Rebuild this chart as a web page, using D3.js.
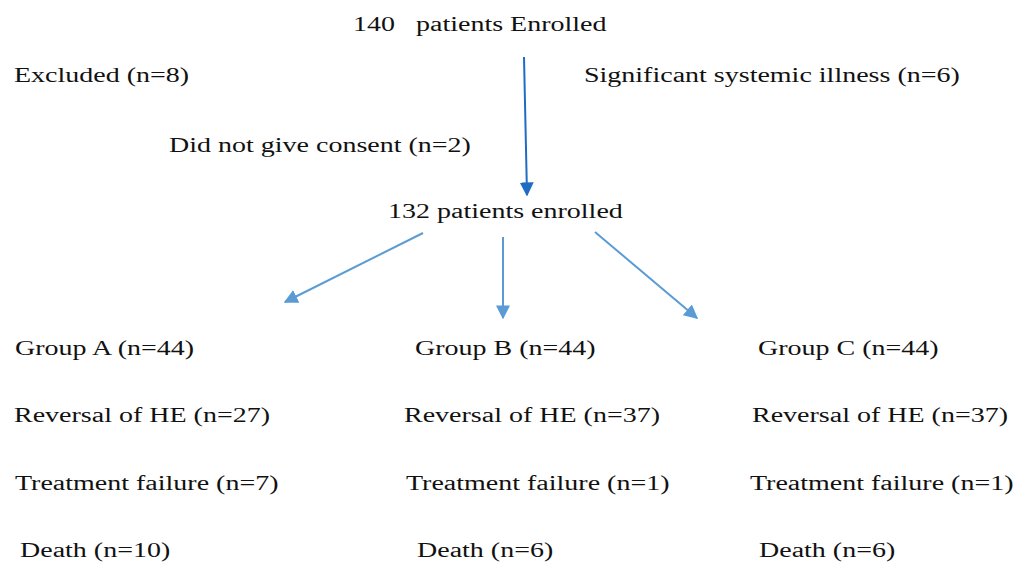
<!DOCTYPE html>
<html>
<head>
<meta charset="utf-8">
<script src="https://cdn.jsdelivr.net/npm/d3@7/dist/d3.min.js"></script>
<style>
  body { margin: 0; background: #fff; }
</style>
</head>
<body>
<div id="chart"></div>
<script>
    'use strict';

    // flow data
    var enrolledTotal = 140;
    var excludedTotal = 8;
    var exclusionReasons = ['Significant systemic illness', 'Did not give consent'];
    var exclusionCounts = [6, 2];
    var enrolledFinal = 132;
    var groups = ['Group A', 'Group B', 'Group C'];
    var groupSizes = [44, 44, 44];
    var outcomeLabels = ['Reversal of HE', 'Treatment failure', 'Death'];
    var reversal = [27, 37, 37];
    var failure = [7, 1, 1];
    var death = [10, 6, 6];

    var width = 1029, height = 563;
    var stretch = 1.40;   // the source picture is widened horizontally
    var fontSize = 20;

    var svg = d3.select('#chart').append('svg')
        .attr('width', width)
        .attr('height', height);

    var defs = svg.append('defs');
    function marker(id, color) {
        defs.append('marker')
            .attr('id', id)
            .attr('viewBox', '0 0 10 10')
            .attr('refX', 9).attr('refY', 5)
            .attr('markerWidth', 7).attr('markerHeight', 7)
            .attr('markerUnits', 'strokeWidth')
            .attr('orient', 'auto')
          .append('path')
            .attr('d', 'M0,0L10,5L0,10z')
            .attr('fill', color);
    }
    marker('headDark', '#1f6cc4');
    marker('headLight', '#5b9bd5');

    function label(x, y, str) {
        svg.append('text')
            .attr('transform', 'translate(' + x + ',' + y + ') scale(' + stretch + ',1)')
            .attr('font-family', "'Liberation Serif', 'DejaVu Serif', serif")
            .attr('font-size', fontSize)
            .attr('fill', '#111')
            .style('white-space', 'pre')
            .text(str);
    }

    function n(v) { return '(n=' + v + ')'; }

    // top part
    label(353, 31, enrolledTotal + '   patients Enrolled');
    label(14, 82, 'Excluded ' + n(excludedTotal));
    label(584, 82, exclusionReasons[0] + ' ' + n(exclusionCounts[0]));
    label(169, 152, exclusionReasons[1] + ' ' + n(exclusionCounts[1]));
    label(388, 218, enrolledFinal + ' patients enrolled');

    svg.append('line')
        .attr('x1', 524).attr('y1', 57)
        .attr('x2', 527).attr('y2', 195)
        .attr('stroke', '#1f6cc4')
        .attr('stroke-width', 2)
        .attr('marker-end', 'url(#headDark)');

    // branch arrows to the three groups
    var branches = [
        { x1: 423, y1: 233, x2: 285, y2: 302 },
        { x1: 503, y1: 237, x2: 503, y2: 318 },
        { x1: 595, y1: 232, x2: 697, y2: 318 }
    ];
    svg.selectAll('line.branch')
        .data(branches)
      .enter().append('line')
        .attr('class', 'branch')
        .attr('x1', function (d) { return d.x1; })
        .attr('y1', function (d) { return d.y1; })
        .attr('x2', function (d) { return d.x2; })
        .attr('y2', function (d) { return d.y2; })
        .attr('stroke', '#5b9bd5')
        .attr('stroke-width', 2)
        .attr('marker-end', 'url(#headLight)');

    // group columns
    var rowY = [355, 422, 490, 557];
    var colX = [
        [15, 14, 15, 20],
        [415, 404, 406, 417],
        [758, 752, 750, 759]
    ];
    groups.forEach(function (g, i) {
        label(colX[i][0], rowY[0], g + ' ' + n(groupSizes[i]));
        label(colX[i][1], rowY[1], outcomeLabels[0] + ' ' + n(reversal[i]));
        label(colX[i][2], rowY[2], outcomeLabels[1] + ' ' + n(failure[i]));
        label(colX[i][3], rowY[3], outcomeLabels[2] + ' ' + n(death[i]));
    });
</script>
</body>
</html>
